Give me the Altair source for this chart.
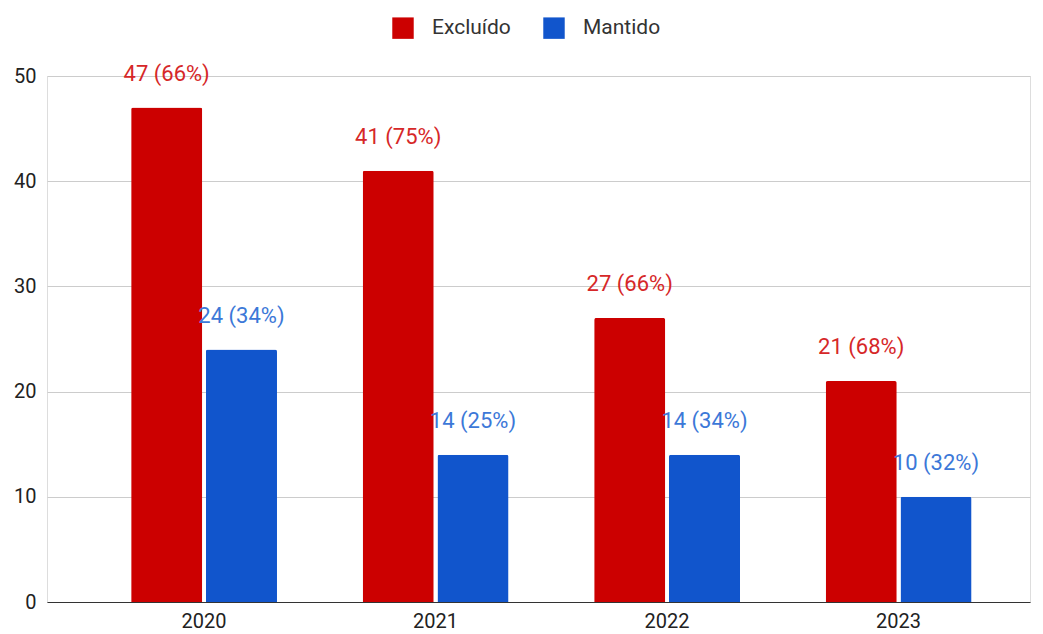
import altair as alt
import pandas as pd

years = ["2020", "2021", "2022", "2023"]
series = ["Excluído", "Mantido"]
excluido = [47, 41, 27, 21]
mantido = [24, 14, 14, 10]
pct_excluido = [66, 75, 66, 68]
pct_mantido = [34, 25, 34, 32]
colors = ["#cc0000", "#1155cc"]
label_colors = ["#d62728", "#3c78d8"]

rows = []
for i, y in enumerate(years):
    rows.append({"year": y, "serie": series[0], "value": excluido[i],
                 "label": f"{excluido[i]} ({pct_excluido[i]}%)"})
    rows.append({"year": y, "serie": series[1], "value": mantido[i],
                 "label": f"{mantido[i]} ({pct_mantido[i]}%)"})
df = pd.DataFrame(rows)

FONT = "Roboto"

x_enc = alt.X("year:N", title=None, sort=years,
              scale=alt.Scale(paddingInner=0.37, paddingOuter=0.308, align=0.59),
              axis=alt.Axis(labelAngle=0, ticks=False, domainColor="#333333",
                            labelFontSize=20, labelColor="#222222", labelPadding=9,
                            labelFont=FONT))
xoff = alt.XOffset("serie:N", sort=series, scale=alt.Scale(paddingInner=0.05))
y_enc = alt.Y("value:Q", title=None,
              scale=alt.Scale(domain=[0, 50], nice=False),
              axis=alt.Axis(values=[0, 10, 20, 30, 40, 50], domain=False, ticks=False,
                            gridColor="#cccccc", labelFontSize=20, labelColor="#222222",
                            labelPadding=11, labelFont=FONT))

bars = alt.Chart(df).mark_bar(cornerRadiusTopLeft=2, cornerRadiusTopRight=2).encode(
    x=x_enc, xOffset=xoff, y=y_enc,
    color=alt.Color("serie:N", sort=series,
                    scale=alt.Scale(domain=series, range=colors),
                    legend=alt.Legend(title=None, orient="none", direction="horizontal",
                                      legendX=345, legendY=-59, symbolType="square",
                                      symbolSize=460, symbolStrokeWidth=0,
                                      labelFontSize=21, labelColor="#333333",
                                      labelFont=FONT, labelOffset=18,
                                      columnPadding=32, symbolOpacity=1)),
)

labels = alt.Chart(df).mark_text(dy=-34, fontSize=22, font=FONT, baseline="middle").encode(
    x=alt.X("year:N", sort=years), xOffset=alt.XOffset("serie:N", sort=series),
    y=alt.Y("value:Q"),
    text="label:N",
    color=alt.Color("serie:N", sort=series,
                    scale=alt.Scale(domain=series, range=label_colors), legend=None),
)

chart = alt.layer(bars, labels).resolve_scale(color="independent").properties(
    width=983, height=526,
    padding={"left": 39, "top": 68, "right": 5, "bottom": 30},
    autosize=alt.AutoSizeParams(type="none"),
).configure_view(stroke=None).configure(font=FONT)

chart.save("out.html", embed_options={"renderer": "svg", "actions": False})
